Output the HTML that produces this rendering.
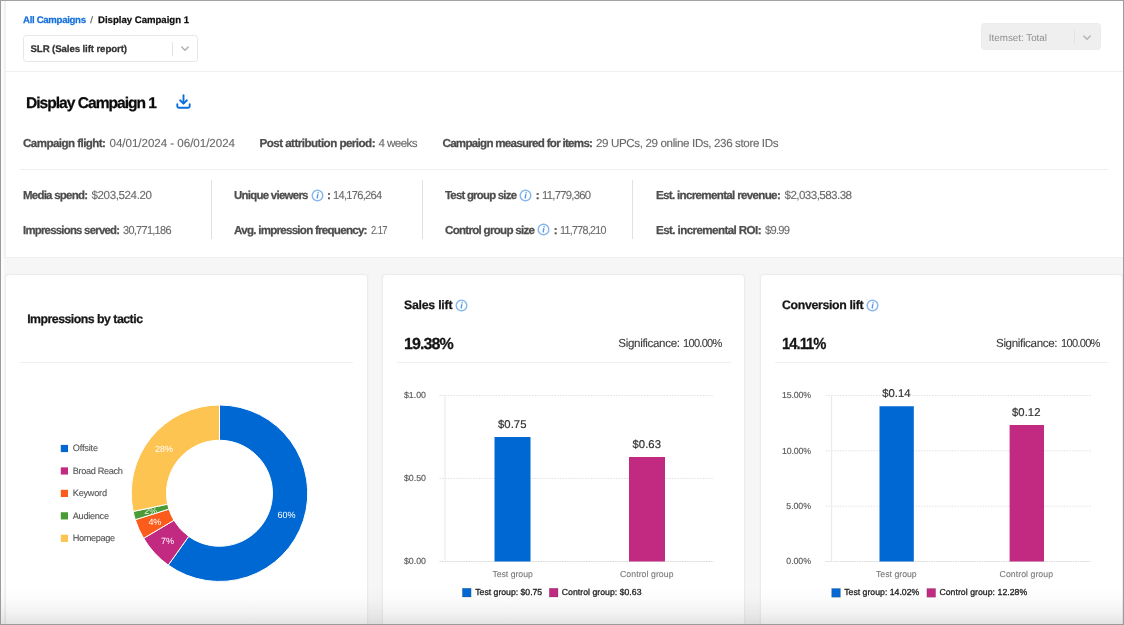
<!DOCTYPE html>
<html>
<head>
<meta charset="utf-8">
<title>Display Campaign 1 - Sales lift report</title>
<style>
*{box-sizing:border-box;margin:0;padding:0}
html,body{width:1124px;height:625px;overflow:hidden}
body{position:relative;background:#f6f6f6;font-family:"Liberation Sans",sans-serif}
.abs{position:absolute}
.t{position:absolute;white-space:pre;font-family:"Liberation Sans",sans-serif;text-rendering:geometricPrecision}
.top{left:4px;top:1px;width:1119px;height:257px;background:#fff;border-left:2px solid #f0f1f3;border-bottom:1px solid #f0f0f0}
.hr{position:absolute;height:1px;background:#efefef}
.vr{position:absolute;width:1px;background:#e0e1e4}
.card{position:absolute;top:274px;height:353px;background:#fff;border:1px solid #ececec;border-radius:4px;box-shadow:0 0 2px rgba(0,0,0,.05)}
.sel{position:absolute;border-radius:3.5px}
.frame{position:absolute;left:0;top:0;width:1124px;height:625px;border:1px solid #9b9b9b;border-top-color:#a2a2a2;pointer-events:none}
.fade{position:absolute;left:1px;top:588px;width:1122px;height:36px;background:linear-gradient(to bottom,rgba(110,110,110,0) 0%,rgba(110,110,110,.025) 30%,rgba(110,110,110,.085) 68%,rgba(110,110,110,.185) 100%);pointer-events:none}
.lstrip{position:absolute;left:1px;top:1px;width:3px;height:623px;background:#fbfbfb}
</style>
</head>
<body>
<div id="wrap" style="position:absolute;left:0;top:0;width:1124px;height:625px;filter:blur(.4px)">
<div class="lstrip"></div>
<div class="abs top"></div>

<!-- header selects -->
<div class="sel" style="left:23px;top:35px;width:175px;height:27px;background:#fff;border:1px solid #e7e7e7"></div>
<div class="abs" style="left:171.6px;top:41.5px;width:1.2px;height:14px;background:#e4e4e4"></div>
<svg class="abs" style="left:180px;top:44px" width="10" height="9" viewBox="0 0 10 9"><path d="M1.8 3 L5 6.2 L8.2 3" fill="none" stroke="#b0b0b0" stroke-width="1.5" stroke-linecap="round" stroke-linejoin="round"/></svg>

<div class="sel" style="left:981px;top:23px;width:120px;height:27px;background:#efefef;border:1px solid #ececec"></div>
<div class="abs" style="left:1074px;top:29.5px;width:1.2px;height:14px;background:#e4e4e4"></div>
<svg class="abs" style="left:1082px;top:33px" width="10" height="9" viewBox="0 0 10 9"><path d="M1.8 3 L5 6.2 L8.2 3" fill="none" stroke="#b4b4b4" stroke-width="1.5" stroke-linecap="round" stroke-linejoin="round"/></svg>

<div class="hr" style="left:6px;top:71px;width:1117px;background:#efefef"></div>

<!-- download icon -->
<svg class="abs" style="left:175px;top:93px" width="17" height="17" viewBox="0 0 17 17"><g fill="none" stroke="#0a6fda" stroke-width="1.9" stroke-linecap="round" stroke-linejoin="round"><path d="M8.5 2.1 V10.2"/><path d="M5.1 7.3 L8.5 10.6 L11.9 7.3"/><path d="M2.3 11.2 V13.2 Q2.3 14.7 3.8 14.7 H13.2 Q14.7 14.7 14.7 13.2 V11.2"/></g></svg>

<div class="hr" style="left:20px;top:169px;width:1088px"></div>
<div class="vr" style="left:210.5px;top:180px;height:59px"></div>
<div class="vr" style="left:421.5px;top:180px;height:59px"></div>
<div class="vr" style="left:632px;top:180px;height:59px"></div>

<!-- cards -->
<div class="card" style="left:5px;width:363px"></div>
<div class="card" style="left:382px;width:363px"></div>
<div class="card" style="left:760px;width:363px"></div>
<div class="hr" style="left:20px;top:362px;width:333px"></div>
<div class="hr" style="left:397px;top:362px;width:334px"></div>
<div class="hr" style="left:775px;top:362px;width:333px"></div>

<!-- info icons -->
<svg class="abs" style="left:310.5px;top:189.2px" width="13" height="13" viewBox="0 0 13 13"><circle cx="6.5" cy="6.5" r="5.3" fill="#fff" stroke="#86b6ef" stroke-width="1.45"/><path d="M6.75 5.7 L6.25 8.9" stroke="#5a9ae6" stroke-width="1.45" stroke-linecap="round" fill="none"/><circle cx="7.1" cy="3.85" r=".8" fill="#5a9ae6"/></svg>
<svg class="abs" style="left:519.3px;top:189.2px" width="13" height="13" viewBox="0 0 13 13"><circle cx="6.5" cy="6.5" r="5.3" fill="#fff" stroke="#86b6ef" stroke-width="1.45"/><path d="M6.75 5.7 L6.25 8.9" stroke="#5a9ae6" stroke-width="1.45" stroke-linecap="round" fill="none"/><circle cx="7.1" cy="3.85" r=".8" fill="#5a9ae6"/></svg>
<svg class="abs" style="left:537px;top:223.2px" width="13" height="13" viewBox="0 0 13 13"><circle cx="6.5" cy="6.5" r="5.3" fill="#fff" stroke="#86b6ef" stroke-width="1.45"/><path d="M6.75 5.7 L6.25 8.9" stroke="#5a9ae6" stroke-width="1.45" stroke-linecap="round" fill="none"/><circle cx="7.1" cy="3.85" r=".8" fill="#5a9ae6"/></svg>
<svg class="abs" style="left:455px;top:298.5px" width="13" height="13" viewBox="0 0 13 13"><circle cx="6.5" cy="6.5" r="5.3" fill="#fff" stroke="#86b6ef" stroke-width="1.45"/><path d="M6.75 5.7 L6.25 8.9" stroke="#5a9ae6" stroke-width="1.45" stroke-linecap="round" fill="none"/><circle cx="7.1" cy="3.85" r=".8" fill="#5a9ae6"/></svg>
<svg class="abs" style="left:866.3px;top:298.5px" width="13" height="13" viewBox="0 0 13 13"><circle cx="6.5" cy="6.5" r="5.3" fill="#fff" stroke="#86b6ef" stroke-width="1.45"/><path d="M6.75 5.7 L6.25 8.9" stroke="#5a9ae6" stroke-width="1.45" stroke-linecap="round" fill="none"/><circle cx="7.1" cy="3.85" r=".8" fill="#5a9ae6"/></svg>


<!-- charts -->
<svg class="abs" style="left:0;top:0" width="1124" height="625" viewBox="0 0 1124 625">
<path d="M219.50 405.00 A88.25 88.25 0 1 1 168.25 565.10 L188.72 536.40 A53 53 0 1 0 219.50 440.25 Z" fill="#0068d3" stroke="#fff" stroke-width="1" stroke-linejoin="round"/>
<path d="M168.25 565.10 A88.25 88.25 0 0 1 143.62 538.31 L173.93 520.31 A53 53 0 0 0 188.72 536.40 Z" fill="#c22a82" stroke="#fff" stroke-width="1" stroke-linejoin="round"/>
<path d="M143.62 538.31 A88.25 88.25 0 0 1 135.29 519.64 L168.93 509.10 A53 53 0 0 0 173.93 520.31 Z" fill="#fb5b1b" stroke="#fff" stroke-width="1" stroke-linejoin="round"/>
<path d="M135.29 519.64 A88.25 88.25 0 0 1 133.15 511.45 L167.64 504.18 A53 53 0 0 0 168.93 509.10 Z" fill="#4a9a35" stroke="#fff" stroke-width="1" stroke-linejoin="round"/>
<path d="M133.15 511.45 A88.25 88.25 0 0 1 219.50 405.00 L219.50 440.25 A53 53 0 0 0 167.64 504.18 Z" fill="#fec452" stroke="#fff" stroke-width="1" stroke-linejoin="round"/>
<clipPath id="gclip"><path d="M135.15 519.20 A88.25 88.25 0 0 1 133.24 511.90 L167.70 504.45 A53 53 0 0 0 168.84 508.83 Z"/></clipPath>
<text x="150.8" y="514.2" text-anchor="middle" font-family="'Liberation Sans', sans-serif" font-size="9" fill="#fff" fill-opacity=".85" clip-path="url(#gclip)">2%</text>
<rect x="60.8" y="444.90" width="7.2" height="7.2" fill="#0068d3"/>
<rect x="60.8" y="467.35" width="7.2" height="7.2" fill="#c22a82"/>
<rect x="60.8" y="489.80" width="7.2" height="7.2" fill="#fb5b1b"/>
<rect x="60.8" y="512.25" width="7.2" height="7.2" fill="#4a9a35"/>
<rect x="60.8" y="534.70" width="7.2" height="7.2" fill="#fec452"/>
<line x1="439.5" y1="395.5" x2="713.75" y2="395.5" stroke="#e2e2e2" stroke-width="1" stroke-dasharray="1.6 1.2"/>
<line x1="439.5" y1="478.5" x2="713.75" y2="478.5" stroke="#e2e2e2" stroke-width="1" stroke-dasharray="1.6 1.2"/>
<line x1="439.5" y1="561.5" x2="713.75" y2="561.5" stroke="#dadada" stroke-width="1" stroke-dasharray="1.6 0.8"/>
<line x1="445" y1="395.5" x2="445" y2="561.5" stroke="#ebebeb" stroke-width="1.2"/>
<rect x="494.5" y="437" width="36.00" height="124.50" fill="#0068d3"/>
<rect x="629" y="457" width="36.00" height="104.50" fill="#c22a82"/>
<rect x="462.4" y="588.3" width="8.7" height="8.7" fill="#0068d3" stroke="rgba(0,0,0,.25)" stroke-width=".6"/>
<rect x="549.3" y="588.3" width="8.7" height="8.7" fill="#c22a82" stroke="rgba(0,0,0,.25)" stroke-width=".6"/>
<line x1="825.75" y1="395.5" x2="1090.5" y2="395.5" stroke="#e2e2e2" stroke-width="1" stroke-dasharray="1.6 1.2"/>
<line x1="825.75" y1="450.8" x2="1090.5" y2="450.8" stroke="#e2e2e2" stroke-width="1" stroke-dasharray="1.6 1.2"/>
<line x1="825.75" y1="506.2" x2="1090.5" y2="506.2" stroke="#e2e2e2" stroke-width="1" stroke-dasharray="1.6 1.2"/>
<line x1="825.75" y1="561.5" x2="1090.5" y2="561.5" stroke="#dadada" stroke-width="1" stroke-dasharray="1.6 0.8"/>
<line x1="831.5" y1="395.5" x2="831.5" y2="561.5" stroke="#ebebeb" stroke-width="1.2"/>
<rect x="879.5" y="406.25" width="34.30" height="155.25" fill="#0068d3"/>
<rect x="1009.6" y="425" width="34.40" height="136.50" fill="#c22a82"/>
<rect x="831.7" y="588.5" width="8.7" height="8.7" fill="#0068d3" stroke="rgba(0,0,0,.25)" stroke-width=".6"/>
<rect x="926.9" y="588.5" width="8.7" height="8.7" fill="#c22a82" stroke="rgba(0,0,0,.25)" stroke-width=".6"/>
</svg>

<span class="t" style="left:23.00px;top:14.00px;font-size:9.6px;line-height:14px;font-weight:700;color:#1872dc;letter-spacing:-0.303px;-webkit-text-stroke:0.25px #1872dc;">All Campaigns</span>
<span class="t" style="left:90.30px;top:14.00px;font-size:9.6px;line-height:14px;font-weight:400;color:#555;letter-spacing:0.000px;-webkit-text-stroke:0.12px #555;">/</span>
<span class="t" style="left:98.00px;top:14.00px;font-size:9.6px;line-height:14px;font-weight:700;color:#111;letter-spacing:-0.010px;-webkit-text-stroke:0.25px #111;">Display Campaign 1</span>
<span class="t" style="left:30.50px;top:43.00px;font-size:9.7px;line-height:14px;font-weight:700;color:#333;letter-spacing:-0.116px;-webkit-text-stroke:0.25px #333;">SLR (Sales lift report)</span>
<span class="t" style="left:988.80px;top:31.50px;font-size:9.8px;line-height:14px;font-weight:400;color:#8f8f8f;letter-spacing:0.008px;">Itemset: Total</span>
<span class="t" style="left:26.00px;top:93.00px;font-size:15.6px;line-height:22px;font-weight:700;color:#0c0c0c;letter-spacing:-1.011px;-webkit-text-stroke:0.25px #0c0c0c;">Display Campaign 1</span>
<span class="t" style="left:23.00px;top:135.00px;font-size:11.6px;line-height:17px;font-weight:700;color:#4d4d4d;letter-spacing:-0.565px;-webkit-text-stroke:0.25px #4d4d4d;">Campaign flight:</span>
<span class="t" style="left:109.50px;top:135.00px;font-size:11.6px;line-height:17px;font-weight:400;color:#696969;letter-spacing:-0.039px;-webkit-text-stroke:0.12px #696969;">04/01/2024 - 06/01/2024</span>
<span class="t" style="left:259.50px;top:135.00px;font-size:11.6px;line-height:17px;font-weight:700;color:#4d4d4d;letter-spacing:-0.529px;-webkit-text-stroke:0.25px #4d4d4d;">Post attribution period:</span>
<span class="t" style="left:378.50px;top:135.00px;font-size:11.6px;line-height:17px;font-weight:400;color:#696969;letter-spacing:-0.589px;-webkit-text-stroke:0.12px #696969;">4 weeks</span>
<span class="t" style="left:442.50px;top:135.00px;font-size:11.6px;line-height:17px;font-weight:700;color:#4d4d4d;letter-spacing:-0.726px;-webkit-text-stroke:0.25px #4d4d4d;">Campaign measured for items:</span>
<span class="t" style="left:596.00px;top:135.00px;font-size:11.6px;line-height:17px;font-weight:400;color:#696969;letter-spacing:-0.372px;-webkit-text-stroke:0.12px #696969;">29 UPCs, 29 online IDs, 236 store IDs</span>
<span class="t" style="left:23.00px;top:187.00px;font-size:11.6px;line-height:17px;font-weight:700;color:#4d4d4d;letter-spacing:-0.754px;-webkit-text-stroke:0.25px #4d4d4d;transform:scale(0.9878,1.0000);transform-origin:0 50%;">Media spend:</span>
<span class="t" style="left:91.50px;top:187.00px;font-size:11.6px;line-height:17px;font-weight:400;color:#696969;letter-spacing:-0.398px;-webkit-text-stroke:0.12px #696969;">$203,524.20</span>
<span class="t" style="left:234.00px;top:187.00px;font-size:11.6px;line-height:17px;font-weight:700;color:#4d4d4d;letter-spacing:-0.754px;-webkit-text-stroke:0.25px #4d4d4d;transform:scale(0.9899,1.0000);transform-origin:0 50%;">Unique viewers</span>
<span class="t" style="left:327.00px;top:187.00px;font-size:11.6px;line-height:17px;font-weight:700;color:#4d4d4d;letter-spacing:0.000px;-webkit-text-stroke:0.25px #4d4d4d;">:</span>
<span class="t" style="left:332.90px;top:187.00px;font-size:11.6px;line-height:17px;font-weight:400;color:#696969;letter-spacing:-0.754px;-webkit-text-stroke:0.12px #696969;transform:scale(0.9581,1.0000);transform-origin:0 50%;">14,176,264</span>
<span class="t" style="left:445.00px;top:187.00px;font-size:11.6px;line-height:17px;font-weight:700;color:#4d4d4d;letter-spacing:-0.754px;-webkit-text-stroke:0.25px #4d4d4d;transform:scale(0.9778,1.0000);transform-origin:0 50%;">Test group size</span>
<span class="t" style="left:535.70px;top:187.00px;font-size:11.6px;line-height:17px;font-weight:700;color:#4d4d4d;letter-spacing:0.000px;-webkit-text-stroke:0.25px #4d4d4d;">:</span>
<span class="t" style="left:541.50px;top:187.00px;font-size:11.6px;line-height:17px;font-weight:400;color:#696969;letter-spacing:-0.754px;-webkit-text-stroke:0.12px #696969;transform:scale(0.9725,1.0000);transform-origin:0 50%;">11,779,360</span>
<span class="t" style="left:656.00px;top:187.00px;font-size:11.6px;line-height:17px;font-weight:700;color:#4d4d4d;letter-spacing:-0.682px;-webkit-text-stroke:0.25px #4d4d4d;">Est. incremental revenue:</span>
<span class="t" style="left:784.50px;top:187.00px;font-size:11.6px;line-height:17px;font-weight:400;color:#696969;letter-spacing:-0.555px;-webkit-text-stroke:0.12px #696969;">$2,033,583.38</span>
<span class="t" style="left:23.00px;top:222.00px;font-size:11.6px;line-height:17px;font-weight:700;color:#4d4d4d;letter-spacing:-0.754px;-webkit-text-stroke:0.25px #4d4d4d;transform:scale(0.9777,1.0000);transform-origin:0 50%;">Impressions served:</span>
<span class="t" style="left:123.00px;top:222.00px;font-size:11.6px;line-height:17px;font-weight:400;color:#696969;letter-spacing:-0.754px;-webkit-text-stroke:0.12px #696969;transform:scale(0.9464,1.0000);transform-origin:0 50%;">30,771,186</span>
<span class="t" style="left:234.00px;top:222.00px;font-size:11.6px;line-height:17px;font-weight:700;color:#4d4d4d;letter-spacing:-0.751px;-webkit-text-stroke:0.25px #4d4d4d;">Avg. impression frequency:</span>
<span class="t" style="left:370.50px;top:222.00px;font-size:11.6px;line-height:17px;font-weight:400;color:#696969;letter-spacing:-0.754px;-webkit-text-stroke:0.12px #696969;transform:scale(0.8122,1.0000);transform-origin:0 50%;">2.17</span>
<span class="t" style="left:445.00px;top:222.00px;font-size:11.6px;line-height:17px;font-weight:700;color:#4d4d4d;letter-spacing:-0.731px;-webkit-text-stroke:0.25px #4d4d4d;">Control group size</span>
<span class="t" style="left:553.70px;top:222.00px;font-size:11.6px;line-height:17px;font-weight:700;color:#4d4d4d;letter-spacing:0.000px;-webkit-text-stroke:0.25px #4d4d4d;">:</span>
<span class="t" style="left:559.50px;top:222.00px;font-size:11.6px;line-height:17px;font-weight:400;color:#696969;letter-spacing:-0.754px;-webkit-text-stroke:0.12px #696969;transform:scale(0.9229,1.0000);transform-origin:0 50%;">11,778,210</span>
<span class="t" style="left:656.00px;top:222.00px;font-size:11.6px;line-height:17px;font-weight:700;color:#4d4d4d;letter-spacing:-0.588px;-webkit-text-stroke:0.25px #4d4d4d;">Est. incremental ROI:</span>
<span class="t" style="left:765.00px;top:222.00px;font-size:11.6px;line-height:17px;font-weight:400;color:#696969;letter-spacing:-0.754px;-webkit-text-stroke:0.12px #696969;transform:scale(0.9616,1.0000);transform-origin:0 50%;">$9.99</span>
<span class="t" style="left:27.20px;top:310.00px;font-size:12.3px;line-height:18px;font-weight:700;color:#161616;letter-spacing:-0.498px;-webkit-text-stroke:0.25px #161616;">Impressions by tactic</span>
<span class="t" style="left:404.00px;top:296.00px;font-size:12.3px;line-height:18px;font-weight:700;color:#161616;letter-spacing:-0.231px;-webkit-text-stroke:0.25px #161616;">Sales lift</span>
<span class="t" style="left:404.00px;top:333.00px;font-size:16px;line-height:23px;font-weight:700;color:#151515;letter-spacing:-0.903px;-webkit-text-stroke:0.25px #151515;">19.38%</span>
<span class="t" style="left:618.30px;top:335.00px;font-size:11.6px;line-height:17px;font-weight:400;color:#3c3c3c;letter-spacing:-0.337px;-webkit-text-stroke:0.12px #3c3c3c;">Significance:</span>
<span class="t" style="left:683.40px;top:335.00px;font-size:11.6px;line-height:17px;font-weight:400;color:#3c3c3c;letter-spacing:-0.754px;-webkit-text-stroke:0.12px #3c3c3c;transform:scale(0.9550,1.0000);transform-origin:0 50%;">100.00%</span>
<span class="t" style="left:782.00px;top:296.00px;font-size:12.3px;line-height:18px;font-weight:700;color:#161616;letter-spacing:-0.328px;-webkit-text-stroke:0.25px #161616;">Conversion lift</span>
<span class="t" style="left:782.00px;top:333.00px;font-size:16px;line-height:23px;font-weight:700;color:#151515;letter-spacing:-1.040px;-webkit-text-stroke:0.25px #151515;transform:scale(0.9234,1.0000);transform-origin:0 50%;">14.11%</span>
<span class="t" style="left:996.00px;top:335.00px;font-size:11.6px;line-height:17px;font-weight:400;color:#3c3c3c;letter-spacing:-0.354px;-webkit-text-stroke:0.12px #3c3c3c;">Significance:</span>
<span class="t" style="left:1061.00px;top:335.00px;font-size:11.6px;line-height:17px;font-weight:400;color:#3c3c3c;letter-spacing:-0.754px;-webkit-text-stroke:0.12px #3c3c3c;transform:scale(0.9574,1.0000);transform-origin:0 50%;">100.00%</span>
<span class="t" style="left:72.80px;top:442.20px;font-size:9.2px;line-height:13px;font-weight:400;color:#555;letter-spacing:-0.182px;-webkit-text-stroke:0.12px #555;">Offsite</span>
<span class="t" style="left:72.80px;top:464.65px;font-size:9.2px;line-height:13px;font-weight:400;color:#555;letter-spacing:-0.344px;-webkit-text-stroke:0.12px #555;">Broad Reach</span>
<span class="t" style="left:72.80px;top:487.10px;font-size:9.2px;line-height:13px;font-weight:400;color:#555;letter-spacing:-0.258px;-webkit-text-stroke:0.12px #555;">Keyword</span>
<span class="t" style="left:72.80px;top:509.55px;font-size:9.2px;line-height:13px;font-weight:400;color:#555;letter-spacing:-0.302px;-webkit-text-stroke:0.12px #555;">Audience</span>
<span class="t" style="left:72.80px;top:532.00px;font-size:9.2px;line-height:13px;font-weight:400;color:#555;letter-spacing:-0.393px;-webkit-text-stroke:0.12px #555;">Homepage</span>
<span class="t" style="left:277.50px;top:509.30px;font-size:9px;line-height:13px;font-weight:400;color:#fff;letter-spacing:-0.008px;">60%</span>
<span class="t" style="left:155.00px;top:443.20px;font-size:9px;line-height:13px;font-weight:400;color:#fff;letter-spacing:-0.008px;">28%</span>
<span class="t" style="left:161.00px;top:534.90px;font-size:9px;line-height:13px;font-weight:400;color:#fff;letter-spacing:-0.016px;">7%</span>
<span class="t" style="left:148.40px;top:516.40px;font-size:9px;line-height:13px;font-weight:400;color:#fff;letter-spacing:-0.216px;">4%</span>
<span class="t" style="left:404.00px;top:389.00px;font-size:8.8px;line-height:13px;font-weight:400;color:#5a5a5a;letter-spacing:-0.029px;-webkit-text-stroke:0.15px #5a5a5a;">$1.00</span>
<span class="t" style="left:404.00px;top:472.00px;font-size:8.8px;line-height:13px;font-weight:400;color:#5a5a5a;letter-spacing:-0.029px;-webkit-text-stroke:0.15px #5a5a5a;">$0.50</span>
<span class="t" style="left:404.00px;top:555.00px;font-size:8.8px;line-height:13px;font-weight:400;color:#5a5a5a;letter-spacing:-0.029px;-webkit-text-stroke:0.15px #5a5a5a;">$0.00</span>
<span class="t" style="left:498.00px;top:417.00px;font-size:11.3px;line-height:16px;font-weight:400;color:#333;letter-spacing:0.055px;-webkit-text-stroke:0.2px #333;">$0.75</span>
<span class="t" style="left:632.50px;top:437.00px;font-size:11.3px;line-height:16px;font-weight:400;color:#333;letter-spacing:0.055px;-webkit-text-stroke:0.2px #333;">$0.63</span>
<span class="t" style="left:492.40px;top:568.00px;font-size:8.7px;line-height:13px;font-weight:400;color:#777;letter-spacing:-0.020px;-webkit-text-stroke:0.1px #777;">Test group</span>
<span class="t" style="left:620.00px;top:568.00px;font-size:8.7px;line-height:13px;font-weight:400;color:#777;letter-spacing:0.072px;-webkit-text-stroke:0.1px #777;">Control group</span>
<span class="t" style="left:475.30px;top:586.00px;font-size:8.7px;line-height:13px;font-weight:400;color:#222;letter-spacing:-0.015px;-webkit-text-stroke:0.3px #222;">Test group: $0.75</span>
<span class="t" style="left:561.75px;top:586.00px;font-size:8.7px;line-height:13px;font-weight:400;color:#222;letter-spacing:0.028px;-webkit-text-stroke:0.3px #222;">Control group: $0.63</span>
<span class="t" style="left:782.00px;top:389.00px;font-size:8.8px;line-height:13px;font-weight:400;color:#5a5a5a;letter-spacing:-0.169px;-webkit-text-stroke:0.15px #5a5a5a;">15.00%</span>
<span class="t" style="left:782.00px;top:444.50px;font-size:8.8px;line-height:13px;font-weight:400;color:#5a5a5a;letter-spacing:-0.169px;-webkit-text-stroke:0.15px #5a5a5a;">10.00%</span>
<span class="t" style="left:786.30px;top:500.00px;font-size:8.8px;line-height:13px;font-weight:400;color:#5a5a5a;letter-spacing:-0.063px;-webkit-text-stroke:0.15px #5a5a5a;">5.00%</span>
<span class="t" style="left:786.30px;top:555.00px;font-size:8.8px;line-height:13px;font-weight:400;color:#5a5a5a;letter-spacing:-0.063px;-webkit-text-stroke:0.15px #5a5a5a;">0.00%</span>
<span class="t" style="left:882.25px;top:386.00px;font-size:11.3px;line-height:16px;font-weight:400;color:#333;letter-spacing:-0.008px;-webkit-text-stroke:0.2px #333;">$0.14</span>
<span class="t" style="left:1012.00px;top:405.00px;font-size:11.3px;line-height:16px;font-weight:400;color:#333;letter-spacing:0.055px;-webkit-text-stroke:0.2px #333;">$0.12</span>
<span class="t" style="left:876.00px;top:568.00px;font-size:8.7px;line-height:13px;font-weight:400;color:#777;letter-spacing:0.014px;-webkit-text-stroke:0.1px #777;">Test group</span>
<span class="t" style="left:999.60px;top:568.00px;font-size:8.7px;line-height:13px;font-weight:400;color:#777;letter-spacing:0.063px;-webkit-text-stroke:0.1px #777;">Control group</span>
<span class="t" style="left:844.20px;top:586.00px;font-size:8.7px;line-height:13px;font-weight:400;color:#222;letter-spacing:0.014px;-webkit-text-stroke:0.3px #222;">Test group: 14.02%</span>
<span class="t" style="left:939.40px;top:586.00px;font-size:8.7px;line-height:13px;font-weight:400;color:#222;letter-spacing:0.043px;-webkit-text-stroke:0.3px #222;">Control group: 12.28%</span>

<div class="fade"></div>
</div>
<div class="frame"></div>
</body>
</html>
